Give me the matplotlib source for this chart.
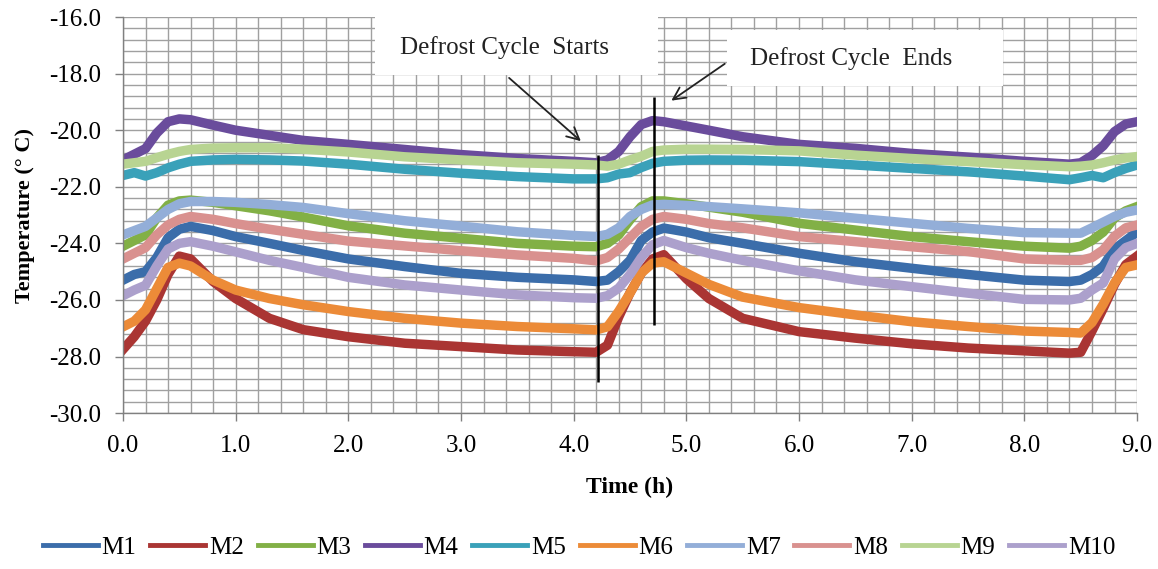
import matplotlib
matplotlib.use("Agg")
import matplotlib.pyplot as plt
from matplotlib.patches import Rectangle
from matplotlib.ticker import MultipleLocator, FormatStrFormatter

plt.rcParams['font.family'] = ['Liberation Serif', 'DejaVu Serif']
plt.rcParams['axes.unicode_minus'] = False

# ---- data ----
time_h = [0.0, 0.1, 0.2, 0.3, 0.4, 0.5, 0.6, 0.8, 1.0, 1.3, 1.6, 2.0, 2.5, 3.0, 3.5,
          4.0, 4.2, 4.3, 4.4, 4.5, 4.6, 4.7, 4.8, 5.0, 5.2, 5.5, 6.0, 6.5, 7.0, 7.5,
          8.0, 8.4, 8.5, 8.6, 8.7, 8.8, 8.9, 9.0]

M1 = [-25.3, -25.1, -25.0, -24.5, -23.8, -23.5, -23.4, -23.55, -23.76, -24.0, -24.25, -24.55, -24.82, -25.06, -25.2,
      -25.29, -25.35, -25.3, -25.0, -24.6, -23.9, -23.6, -23.46, -23.6, -23.8, -24.0, -24.35, -24.65, -24.88, -25.1,
      -25.3, -25.35, -25.3, -25.1, -24.8, -24.2, -23.9, -23.6]
M2 = [-27.75, -27.3, -26.75, -26.0, -25.1, -24.45, -24.55, -25.35, -25.95, -26.65, -27.05, -27.3, -27.53, -27.65, -27.77,
      -27.83, -27.85, -27.6, -26.6, -25.75, -25.05, -24.55, -24.4, -25.25, -25.95, -26.65, -27.12, -27.35, -27.55, -27.7,
      -27.8, -27.88, -27.85, -27.1, -26.3, -25.45, -24.75, -24.45]
M3 = [-24.1, -23.9, -23.7, -23.1, -22.65, -22.5, -22.47, -22.55, -22.67, -22.85, -23.07, -23.38, -23.64, -23.82, -24.0,
      -24.1, -24.12, -24.0, -23.7, -23.17, -22.7, -22.5, -22.5, -22.6, -22.72, -22.9, -23.29, -23.53, -23.76, -23.94,
      -24.1, -24.17, -24.1, -23.9, -23.6, -23.1, -22.85, -22.7]
M4 = [-21.05, -20.85, -20.65, -20.1, -19.7, -19.6, -19.63, -19.82, -20.0, -20.18, -20.36, -20.5, -20.68, -20.86, -21.0,
      -21.1, -21.15, -21.05, -20.75, -20.23, -19.8, -19.66, -19.7, -19.85, -20.0, -20.23, -20.5, -20.64, -20.82, -20.95,
      -21.1, -21.2, -21.15, -20.9, -20.55, -20.05, -19.78, -19.7]
M5 = [-21.6, -21.5, -21.62, -21.5, -21.33, -21.2, -21.1, -21.05, -21.03, -21.05, -21.09, -21.2, -21.38, -21.52, -21.64,
      -21.72, -21.72, -21.68, -21.55, -21.5, -21.32, -21.17, -21.1, -21.06, -21.05, -21.06, -21.11, -21.23, -21.35, -21.47,
      -21.62, -21.75, -21.68, -21.6, -21.68, -21.5, -21.35, -21.23]
M6 = [-26.95, -26.75, -26.35, -25.6, -24.85, -24.7, -24.8, -25.3, -25.65, -25.95, -26.17, -26.41, -26.65, -26.82, -26.94,
      -27.02, -27.06, -26.95, -26.4, -25.76, -25.05, -24.7, -24.65, -25.05, -25.45, -25.9, -26.27, -26.53, -26.77, -26.94,
      -27.1, -27.15, -27.17, -26.8, -26.15, -25.4, -24.85, -24.76]
M7 = [-23.7, -23.55, -23.4, -23.1, -22.8, -22.6, -22.52, -22.52, -22.55, -22.63, -22.73, -22.95, -23.2, -23.39, -23.59,
      -23.72, -23.76, -23.68, -23.45, -23.05, -22.8, -22.64, -22.62, -22.66, -22.7, -22.78, -22.92, -23.11, -23.29, -23.47,
      -23.62, -23.64, -23.64, -23.45, -23.25, -23.05, -22.9, -22.82]
M8 = [-24.55, -24.35, -24.15, -23.7, -23.35, -23.15, -23.05, -23.15, -23.3, -23.5, -23.68, -23.92, -24.09, -24.26, -24.41,
      -24.53, -24.62, -24.5, -24.2, -23.8, -23.4, -23.15, -23.05, -23.15, -23.3, -23.45, -23.76, -23.94, -24.12, -24.29,
      -24.55, -24.6, -24.6, -24.5, -24.23, -23.75, -23.45, -23.35]
M9 = [-21.2, -21.15, -21.1, -20.97, -20.85, -20.75, -20.68, -20.63, -20.62, -20.62, -20.67, -20.77, -20.94, -21.05, -21.15,
      -21.2, -21.23, -21.27, -21.2, -21.05, -20.92, -20.75, -20.7, -20.67, -20.67, -20.68, -20.73, -20.88, -21.0, -21.11,
      -21.22, -21.29, -21.27, -21.23, -21.15, -21.05, -20.98, -20.93]
M10 = [-25.85, -25.65, -25.48, -24.8, -24.2, -24.0, -23.94, -24.1, -24.3, -24.6, -24.85, -25.2, -25.47, -25.65, -25.82,
       -25.92, -25.94, -25.85, -25.58, -25.1, -24.5, -24.05, -23.9, -24.15, -24.35, -24.6, -24.97, -25.29, -25.53, -25.76,
       -25.98, -26.0, -25.94, -25.65, -25.4, -24.55, -24.15, -24.0]

series_names = ['M1', 'M2', 'M3', 'M4', 'M5', 'M6', 'M7', 'M8', 'M9', 'M10']
series_values = [M1, M2, M3, M4, M5, M6, M7, M8, M9, M10]
series_colors = ['#3B6DAA', '#AA3533', '#82B046', '#6A4C9C', '#3AA1B9',
                 '#EC8B38', '#93AED8', '#D9918F', '#B8D492', '#ACA0CC']

defrost_start = 4.22   # h
defrost_end = 4.71     # h
start_line_range = (-28.9, -20.88)
end_line_range = (-26.88, -18.83)

# ---- figure ----
fig = plt.figure(figsize=(11.58, 5.69), dpi=100)
ax = fig.add_axes([0.1062, 0.274, 0.8757, 0.696])

for name, vals, col in zip(series_names, series_values, series_colors):
    ax.plot(time_h, vals, color=col, lw=6.8, label=name, solid_joinstyle='round', zorder=2)

ax.set_xlim(0, 9)
ax.set_ylim(-30, -16)
ax.xaxis.set_major_locator(MultipleLocator(1.0))
ax.xaxis.set_minor_locator(MultipleLocator(0.2))
ax.yaxis.set_major_locator(MultipleLocator(2.0))
ax.yaxis.set_minor_locator(MultipleLocator(0.4))
ax.xaxis.set_major_formatter(FormatStrFormatter('%.1f'))
ax.yaxis.set_major_formatter(FormatStrFormatter('%.1f'))
ax.set_axisbelow(True)
ax.grid(which='both', color='#a0a0a0', lw=1.0)
ax.tick_params(axis='both', which='major', direction='out', length=6, width=1.0,
               color='#808080', labelsize=18, pad=10)
ax.tick_params(axis='both', which='minor', length=0)
for side in ['left', 'bottom']:
    ax.spines[side].set_color('#808080')
    ax.spines[side].set_linewidth(1.0)
for side in ['top', 'right']:
    ax.spines[side].set_visible(False)

ax.set_xlabel('Time (h)', fontsize=17, fontweight='bold', labelpad=14)
ax.set_ylabel('Temperature (° C)', fontsize=16, fontweight='bold', labelpad=10)

# defrost markers
ax.vlines([defrost_start], start_line_range[0], start_line_range[1], color='black', lw=1.8, zorder=3)
ax.vlines([defrost_end], end_line_range[0], end_line_range[1], color='black', lw=1.8, zorder=3)

# white label boxes
ax.add_patch(Rectangle((0.2485, 0.8535), 0.2791, 0.1465, transform=ax.transAxes,
                       facecolor='white', edgecolor='none', zorder=1))
ax.add_patch(Rectangle((0.5957, 0.8258), 0.2722, 0.1414, transform=ax.transAxes,
                       facecolor='white', edgecolor='none', zorder=1))
ax.text(0.3767, 0.924, 'Defrost Cycle  Starts', transform=ax.transAxes, fontsize=18,
        ha='center', va='center', color='#222222', zorder=4)
ax.text(0.718, 0.8965, 'Defrost Cycle  Ends', transform=ax.transAxes, fontsize=18,
        ha='center', va='center', color='#222222', zorder=4)
ax.annotate('', xy=(0.4536, 0.682), xytext=(0.3787, 0.851), xycoords='axes fraction',
            arrowprops=dict(arrowstyle='->', color='#222222', lw=1.3, mutation_scale=22), zorder=4)
ax.annotate('', xy=(0.5385, 0.785), xytext=(0.5957, 0.886), xycoords='axes fraction',
            arrowprops=dict(arrowstyle='->', color='#222222', lw=1.3, mutation_scale=22), zorder=4)

leg = fig.legend(loc='center', bbox_to_anchor=(0.5, 0.037), ncol=10, frameon=False,
                 fontsize=18, handlelength=2.2, handletextpad=0.15, columnspacing=0.55)
for h in leg.get_lines():
    h.set_linewidth(3.5)

fig.savefig('out.png', dpi=100)
